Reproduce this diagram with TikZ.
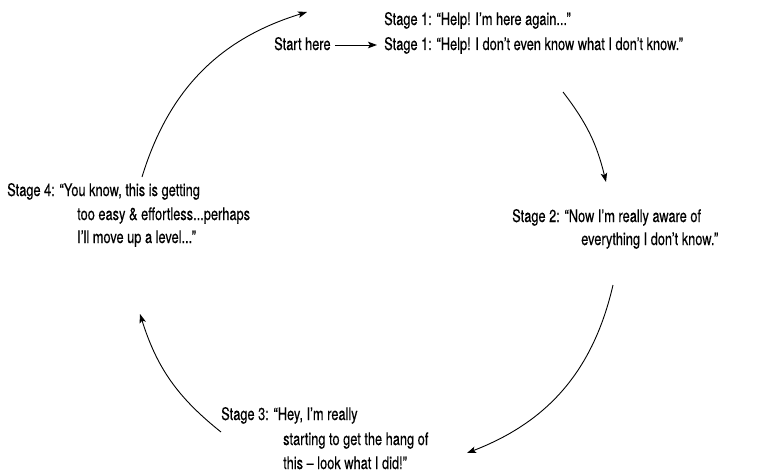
\documentclass[tikz,border=0pt]{standalone}
\usepackage{fontspec}
\setmainfont{TeX Gyre Heros}[FakeStretch=0.74,FakeBold=0.35]
\usetikzlibrary{arrows.meta}
\begin{document}
\begin{tikzpicture}[x=1pt,y=1pt,
  txt/.style={anchor=base west,inner sep=0pt,font=\fontsize{17.3}{20}\selectfont},
  arr/.style={line width=0.9pt,-{Stealth[length=9pt,width=6.5pt,inset=2pt]}}]
\useasboundingbox (0,0) rectangle (781,475);
% texts
\node[txt] (s1a) at (384,450) {Stage 1: “Help! I’m here again...”};
\node[txt] (s1b) at (384,425) {Stage 1: “Help! I don’t even know what I don’t know.”};
\node[txt] (start) at (274,425) {Start here};
\node[txt] (s2a) at (512,253) {Stage 2: “Now I’m really aware of};
\node[txt] (s2b) at (581,230) {everything I don’t know.”};
\node[txt] (s4a) at (7,279) {Stage 4: “You know, this is getting};
\node[txt] (s4b) at (77,255) {too easy \& effortless...perhaps};
\node[txt] (s4c) at (77,232) {I’ll move up a level...”};
\node[txt] (s3a) at (221,55) {Stage 3: “Hey, I’m really};
\node[txt] (s3b) at (283,30) {starting to get the hang of};
\node[txt] (s3c) at (283,6) {this – look what I did!”};
% arc end points
\coordinate (a1s) at (142,298); \coordinate (a1e) at (307,463);
\coordinate (a2s) at (563,383); \coordinate (a2e) at (606,293);
\coordinate (a3s) at (613,190); \coordinate (a3e) at (467,22);
\coordinate (a4s) at (221,43);  \coordinate (a4e) at (140,161);
\draw[arr] (a1s) to[bend left=28] (a1e);
\draw[arr] (a2s) to[bend left=12] (a2e);
\draw[arr] (a3s) to[bend left=28] (a3e);
\draw[arr] (a4s) to[bend left=17] (a4e);
\draw[arr,shorten <=4pt,shorten >=7pt] ([yshift=5pt]start.base east) -- ([yshift=5pt]s1b.base west);
\end{tikzpicture}
\end{document}
